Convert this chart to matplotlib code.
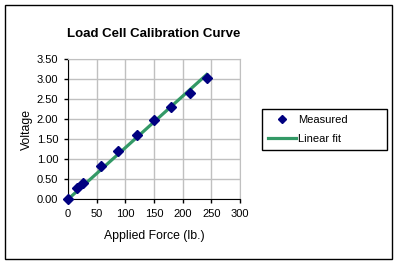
import matplotlib
matplotlib.use('Agg')
import matplotlib.pyplot as plt
from matplotlib.patches import Rectangle

plt.rcParams['font.family'] = ['Liberation Sans', 'DejaVu Sans']

# measured points
force = [0, 15, 27, 57, 87, 120, 150, 180, 212, 243]
voltage = [0.0, 0.29, 0.40, 0.83, 1.21, 1.62, 1.98, 2.30, 2.65, 3.03]

# linear fit line end points
fit_force = [0, 242]
fit_voltage = [0.0, 3.12]

xticks = [0, 50, 100, 150, 200, 250, 300]
yticks = [0.0, 0.5, 1.0, 1.5, 2.0, 2.5, 3.0, 3.5]

fig = plt.figure(figsize=(3.98, 2.65), dpi=100)
ax = fig.add_axes([68/398, 1-199.3/265, 172/398, 140/265])

ax.plot(force, voltage, linestyle='none', marker='D', markersize=4.8,
        color='#000080', label='Measured', zorder=3, clip_on=False)
ax.plot(fit_force, fit_voltage, color='#339966', linewidth=2.3,
        label='Linear fit', zorder=2)

ax.set_xlim(0, 300)
ax.set_ylim(0, 3.5)
ax.set_xticks(xticks)
ax.set_yticks(yticks)
ax.set_yticklabels(['%.2f' % v for v in yticks])
ax.grid(True, color='#c0c0c0', linewidth=1)
ax.set_axisbelow(True)
ax.tick_params(labelsize=8, length=3, width=1, color='black', pad=4)
ax.spines['top'].set_color('#c0c0c0')
ax.spines['right'].set_color('#c0c0c0')
for s in ['left', 'bottom']:
    ax.spines[s].set_color('black')

ax.set_xlabel('Applied Force (lb.)', fontsize=8.8, labelpad=8)
ax.set_ylabel('Voltage', fontsize=8.8, labelpad=3)
ax.set_title('Load Cell Calibration Curve', fontsize=9.5, fontweight='bold', pad=16)

fig.legend(loc='upper left', mode='expand',
           bbox_to_anchor=(262/398, 1-148/265, 125/398, 39/265), fontsize=8,
           frameon=True, fancybox=False, edgecolor='black', borderaxespad=0,
           handlelength=2.6, handletextpad=0.15, borderpad=0.5, labelspacing=0.85,
           framealpha=1, markerscale=0.8)

fig.patches.append(Rectangle((5/398, 1-259/265), 387/398, 254/265,
                             transform=fig.transFigure, fill=False,
                             edgecolor='black', linewidth=1))

fig.savefig('out.png', dpi=100)
